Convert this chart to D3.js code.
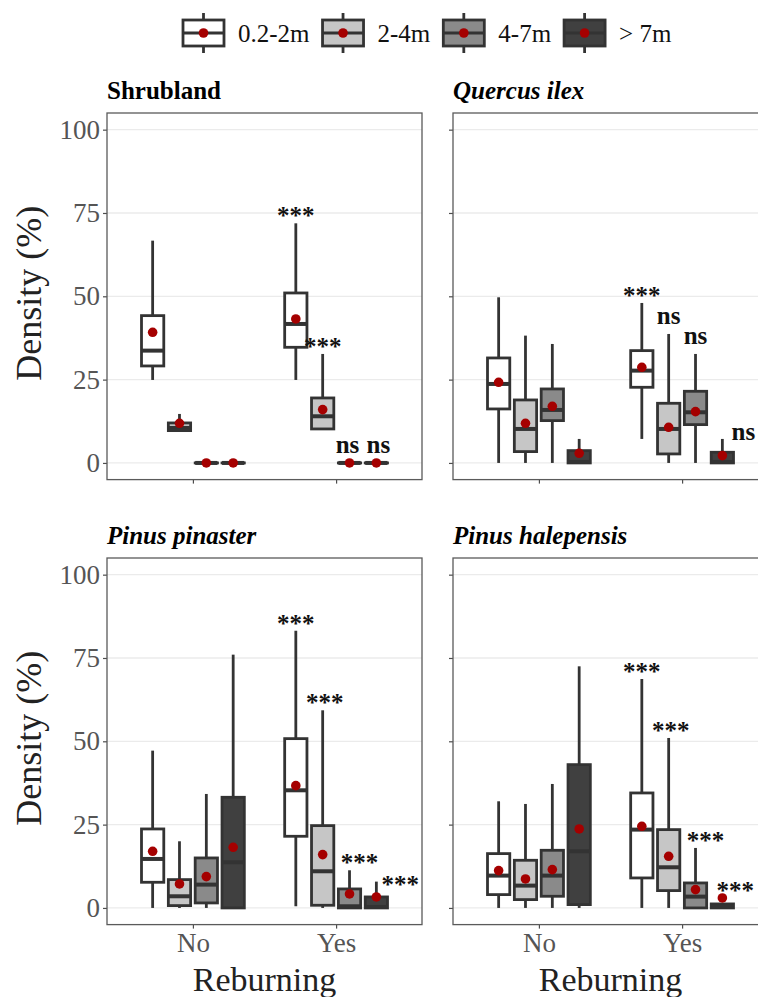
<!DOCTYPE html>
<html>
<head>
<meta charset="utf-8">
<script src="https://cdnjs.cloudflare.com/ajax/libs/d3/7.8.5/d3.min.js"></script>
<style>
  body { margin: 0; background: #fff; }
  svg text { font-family: "Liberation Serif", "Times New Roman", serif; }
  .axis path { display: none; }
  .axis line { stroke: #4d4d4d; stroke-width: 1.2; }
  .axis text { font-size: 27px; fill: #555; }
</style>
</head>
<body>
<script>
// categories
var panelNames = ["Shrubland", "Quercus ilex", "Pinus pinaster", "Pinus halepensis"];
var reburning = ["No", "Yes"];
var heightClasses = ["0.2-2m", "2-4m", "4-7m", "> 7m"];
var yTicks = [0, 25, 50, 75, 100];

// box stats: [lower whisker, q1, median, q3, upper whisker, mean]
// rows 0-3 = No, rows 4-7 = Yes, in heightClasses order
var shrublandStats = [
  [24.9, 29.1, 33.7, 44.2, 66.7, 39.2],
  [9.7, 9.7, 10.5, 12.0, 14.7, 11.9],
  [0, 0, 0, 0, 0, 0],
  [0, 0, 0, 0, 0, 0],
  [24.9, 34.7, 41.7, 51.0, 71.9, 43.2],
  [10.2, 10.2, 14.0, 19.5, 32.7, 16.0],
  [0, 0, 0, 0, 0, 0],
  [0, 0, 0, 0, 0, 0]
];
var quercusStats = [
  [0, 16.2, 23.7, 31.5, 49.7, 24.2],
  [0, 3.4, 10.2, 18.9, 38.2, 11.9],
  [0, 12.7, 15.9, 22.2, 35.7, 17.0],
  [0, 0, 0.3, 3.7, 7.2, 2.9],
  [7.2, 22.7, 27.7, 33.7, 48.0, 28.7],
  [0, 2.7, 10.2, 17.9, 38.7, 10.7],
  [0, 11.5, 15.2, 21.5, 32.7, 15.4],
  [0, 0, 0.3, 3.2, 7.2, 2.2]
];
var pinasterStats = [
  [0, 7.7, 14.7, 23.7, 47.2, 17.0],
  [0, 0.7, 3.5, 8.5, 20.0, 7.2],
  [0, 1.5, 7.0, 15.0, 34.2, 9.4],
  [0, 0, 13.7, 33.2, 76.0, 18.2],
  [0.5, 21.5, 35.3, 50.8, 83.2, 36.7],
  [0, 0.8, 11.0, 24.7, 59.3, 16.0],
  [0, 0, 0.5, 5.7, 11.3, 4.2],
  [0, 0, 0.3, 3.3, 7.9, 3.3]
];
var halepensisStats = [
  [0, 4.0, 9.7, 16.3, 32.0, 11.2],
  [0, 2.5, 6.7, 14.3, 31.2, 8.7],
  [0, 3.5, 9.7, 17.3, 37.2, 11.5],
  [0, 1.0, 17.0, 43.0, 72.5, 23.7],
  [0, 9.0, 23.5, 34.5, 68.7, 24.5],
  [0, 5.2, 12.2, 23.5, 51.0, 15.5],
  [0, 0, 3.4, 7.5, 18.0, 5.5],
  [0, 0, 0.3, 1.2, 1.2, 3.0]
];

// significance labels over the "Yes" boxes
var shrublandSig = ["***", "***", "ns", "ns"];
var quercusSig = ["***", "ns", "ns", "ns"];
var pinasterSig = ["***", "***", "***", "***"];
var halepensisSig = ["***", "***", "***", "***"];

var allStats = [shrublandStats, quercusStats, pinasterStats, halepensisStats];
var allSig = [shrublandSig, quercusSig, pinasterSig, halepensisSig];

// small label nudges (px) so labels sit beside short whiskers like in the original
var sigNudge = [
  [[0, 0], [0, 0], [-2, 0], [2, 0]],
  [[0, 0], [0, 0], [0, 0], [21, 11]],
  [[0, 0], [2, 0], [10, 0], [24, 10]],
  [[0, 0], [2, 0], [10, 0], [13, 0]]
];

var fills = ["#ffffff", "#c6c6c6", "#8a8a8a", "#404040"];
var boxStroke = "#333333";
var meanColor = "#a50000";

var width = 758, height = 997;
var panelW = 315, panelH = 366.6;
var panelLeft = [107, 453];
var panelTop = [113, 558];

var svg = d3.select("body").append("svg")
    .attr("width", width)
    .attr("height", height);

svg.append("rect").attr("width", width).attr("height", height).attr("fill", "#fff");

// shared scales (panel local coords)
var xScale = d3.scalePoint().domain(reburning).range([0, panelW]).padding(0.6);
var step = xScale.step();
var dodge = d3.scaleBand().domain(heightClasses).range([-0.375 * step, 0.375 * step]);
var boxW = dodge.bandwidth() * 0.83;
var yScale = d3.scaleLinear().domain([-5, 105]).range([panelH, 0]);

function drawPanel(k) {
  var col = k % 2, row = Math.floor(k / 2);
  var g = svg.append("g")
      .attr("transform", "translate(" + panelLeft[col] + "," + panelTop[row] + ")");

  // grid lines
  g.selectAll("line.grid")
    .data(yTicks)
    .enter().append("line")
    .attr("class", "grid")
    .attr("x1", 0).attr("x2", panelW)
    .attr("y1", function(d) { return yScale(d); })
    .attr("y2", function(d) { return yScale(d); })
    .attr("stroke", "#ebebeb")
    .attr("stroke-width", 1.3);

  // y axis
  var yAxis = d3.axisLeft(yScale).tickValues(yTicks).tickSize(4).tickPadding(3);
  if (col == 1) yAxis.tickFormat("");
  g.append("g").attr("class", "axis").call(yAxis);

  // x axis
  var xAxis = d3.axisBottom(xScale).tickSize(4).tickPadding(4);
  if (row == 0) xAxis.tickFormat("");
  g.append("g").attr("class", "axis")
    .attr("transform", "translate(0," + panelH + ")")
    .call(xAxis);

  var stats = allStats[k].map(function(s, i) {
    return { group: reburning[Math.floor(i / 4)], cls: heightClasses[i % 4], ci: i % 4,
             lo: s[0], q1: s[1], med: s[2], q3: s[3], hi: s[4], mean: s[5] };
  });

  var boxes = g.selectAll("g.box")
    .data(stats)
    .enter().append("g")
    .attr("class", "box")
    .attr("transform", function(d) {
      return "translate(" + (xScale(d.group) + dodge(d.cls) + dodge.bandwidth() / 2) + ",0)";
    });

  // whiskers
  boxes.append("line")
    .attr("y1", function(d) { return yScale(d.lo); })
    .attr("y2", function(d) { return yScale(d.hi); })
    .attr("stroke", boxStroke)
    .attr("stroke-width", 2.8);

  // box
  boxes.append("rect")
    .attr("x", -boxW / 2)
    .attr("width", boxW)
    .attr("y", function(d) { return yScale(d.q3); })
    .attr("height", function(d) { return Math.max(0.01, yScale(d.q1) - yScale(d.q3)); })
    .attr("fill", function(d) { return fills[d.ci]; })
    .attr("stroke", boxStroke)
    .attr("stroke-width", 2.8);

  // median
  boxes.append("line")
    .attr("x1", -boxW / 2).attr("x2", boxW / 2)
    .attr("y1", function(d) { return yScale(d.med); })
    .attr("y2", function(d) { return yScale(d.med); })
    .attr("stroke", boxStroke)
    .attr("stroke-width", 4);

  // mean
  boxes.append("circle")
    .attr("cy", function(d) { return yScale(d.mean); })
    .attr("r", 4.8)
    .attr("fill", meanColor);

  // significance labels for Yes boxes
  var yes = stats.filter(function(d) { return d.group == "Yes"; });
  g.selectAll("text.sig")
    .data(yes)
    .enter().append("text")
    .attr("class", "sig")
    .attr("x", function(d) {
      return xScale(d.group) + dodge(d.cls) + dodge.bandwidth() / 2 + sigNudge[k][d.ci][0];
    })
    .attr("y", function(d) {
      var top = yScale(Math.max(d.hi, d.mean));
      var lab = allSig[k][d.ci];
      return (lab == "ns" ? top - 10 : top + 1) + sigNudge[k][d.ci][1];
    })
    .attr("text-anchor", "middle")
    .attr("font-weight", "bold")
    .attr("font-size", "25px")
    .attr("fill", "#111")
    .text(function(d) { return allSig[k][d.ci]; });

  // panel border
  g.append("rect")
    .attr("width", panelW).attr("height", panelH)
    .attr("fill", "none")
    .attr("stroke", "#5a5a5a")
    .attr("stroke-width", 1.3);

  // strip title
  g.append("text")
    .attr("x", 0)
    .attr("y", -14)
    .attr("font-size", "25px")
    .attr("font-weight", "bold")
    .attr("font-style", k == 0 ? "normal" : "italic")
    .attr("fill", "#000")
    .text(panelNames[k]);

  // axis titles
  if (col == 0) {
    g.append("text")
      .attr("transform", "translate(" + (-107 + 41) + "," + (panelH / 2 - 3) + ") rotate(-90)")
      .attr("text-anchor", "middle")
      .attr("font-size", "36px")
      .attr("fill", "#222")
      .text("Density (%)");
  }
  if (row == 1) {
    g.append("text")
      .attr("x", panelW / 2)
      .attr("y", panelH + 66)
      .attr("text-anchor", "middle")
      .attr("font-size", "34px")
      .attr("fill", "#222")
      .text("Reburning");
  }
}

for (var k = 0; k < panelNames.length; k++) drawPanel(k);

// legend
var keyW = 41, keyH = 26, keyTop = 20;
var lx = 183;
heightClasses.forEach(function(h, i) {
  var key = svg.append("g").attr("transform", "translate(" + lx + "," + keyTop + ")");
  key.append("line")
    .attr("x1", keyW / 2).attr("x2", keyW / 2)
    .attr("y1", -7).attr("y2", keyH + 7)
    .attr("stroke", boxStroke).attr("stroke-width", 2.8);
  key.append("rect")
    .attr("width", keyW).attr("height", keyH)
    .attr("fill", fills[i])
    .attr("stroke", boxStroke).attr("stroke-width", 2.8);
  key.append("line")
    .attr("x1", 0).attr("x2", keyW)
    .attr("y1", keyH / 2).attr("y2", keyH / 2)
    .attr("stroke", boxStroke).attr("stroke-width", 3);
  key.append("circle")
    .attr("cx", keyW / 2).attr("cy", keyH / 2)
    .attr("r", 4.8).attr("fill", meanColor);
  var t = svg.append("text")
    .attr("x", lx + keyW + 14)
    .attr("y", 42)
    .attr("font-size", "25px")
    .attr("fill", "#111")
    .text(h);
  lx = lx + keyW + 14 + t.node().getComputedTextLength() + 13;
});
</script>
</body>
</html>
